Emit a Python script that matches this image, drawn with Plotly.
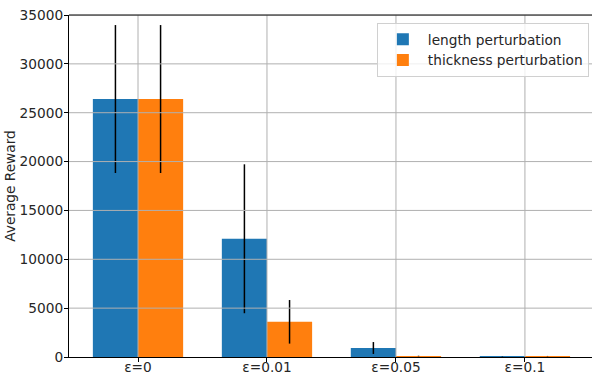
import plotly.graph_objects as go

# Perturbation levels and average reward per perturbation type
categories = ["ε=0", "ε=0.01", "ε=0.05", "ε=0.1"]
length_mean = [26400, 12100, 920, 70]
length_std = [7570, 7620, 610, 20]
thickness_mean = [26400, 3600, 100, 90]
thickness_std = [7570, 2230, 30, 20]
y_ticks = [0, 5000, 10000, 15000, 20000, 25000, 30000, 35000]

FONT = "DejaVu Sans"
FS = 13.7
TXT = "#262626"
GRID = "#b0b0b0"

fig = go.Figure()
fig.add_trace(go.Bar(
    name="length perturbation", x=categories, y=length_mean,
    marker=dict(color="#1f77b4", line=dict(width=0)),
    error_y=dict(type="data", array=length_std, color="black", thickness=1.5, width=0),
))
fig.add_trace(go.Bar(
    name="thickness perturbation", x=categories, y=thickness_mean,
    marker=dict(color="#ff7f0e", line=dict(width=0)),
    error_y=dict(type="data", array=thickness_std, color="black", thickness=1.5, width=0),
))

# grid drawn over the bars
for v in y_ticks[1:]:
    fig.add_shape(type="line", xref="paper", x0=0, x1=1, yref="y", y0=v, y1=v,
                  line=dict(color=GRID, width=1), layer="above")
for c in categories:
    fig.add_shape(type="line", xref="x", x0=c, x1=c, yref="paper", y0=0, y1=1,
                  line=dict(color=GRID, width=1), layer="above")
# top spine
fig.add_shape(type="line", xref="paper", x0=0, x1=1, yref="paper", y0=1, y1=1,
              line=dict(color="black", width=1.2), layer="above")

fig.update_layout(
    width=592, height=374,
    margin=dict(l=69, r=0, t=15, b=17),
    plot_bgcolor="white", paper_bgcolor="white",
    barmode="group", bargap=0.3, bargroupgap=0,
    font=dict(family=FONT, size=FS, color=TXT),
    showlegend=True,
    legend=dict(x=0.994, y=0.977, xanchor="right", yanchor="top",
                bgcolor="rgba(255,255,255,0.8)", bordercolor="#d0d0d0", borderwidth=1,
                font=dict(family=FONT, size=FS, color=TXT),
                itemwidth=40, tracegroupgap=0),
)
fig.update_xaxes(
    range=[-0.535, 3.52], showgrid=False, showline=True, linecolor="black", linewidth=1.2,
    ticks="outside", ticklen=4, tickcolor="black", tickfont=dict(size=FS, color=TXT),
    ticklabelstandoff=-7, zeroline=False, automargin=False,
)
fig.update_yaxes(
    range=[0, 35000], tickvals=y_ticks, tickformat="d", showgrid=False,
    showline=True, linecolor="black", linewidth=1.2, zeroline=False,
    ticks="outside", ticklen=4, tickcolor="black", tickfont=dict(size=FS, color=TXT),
    ticklabelstandoff=-2,
    title=dict(text="Average Reward", font=dict(size=FS, color=TXT), standoff=0),
    automargin=False,
)

fig.write_html("out.html")
